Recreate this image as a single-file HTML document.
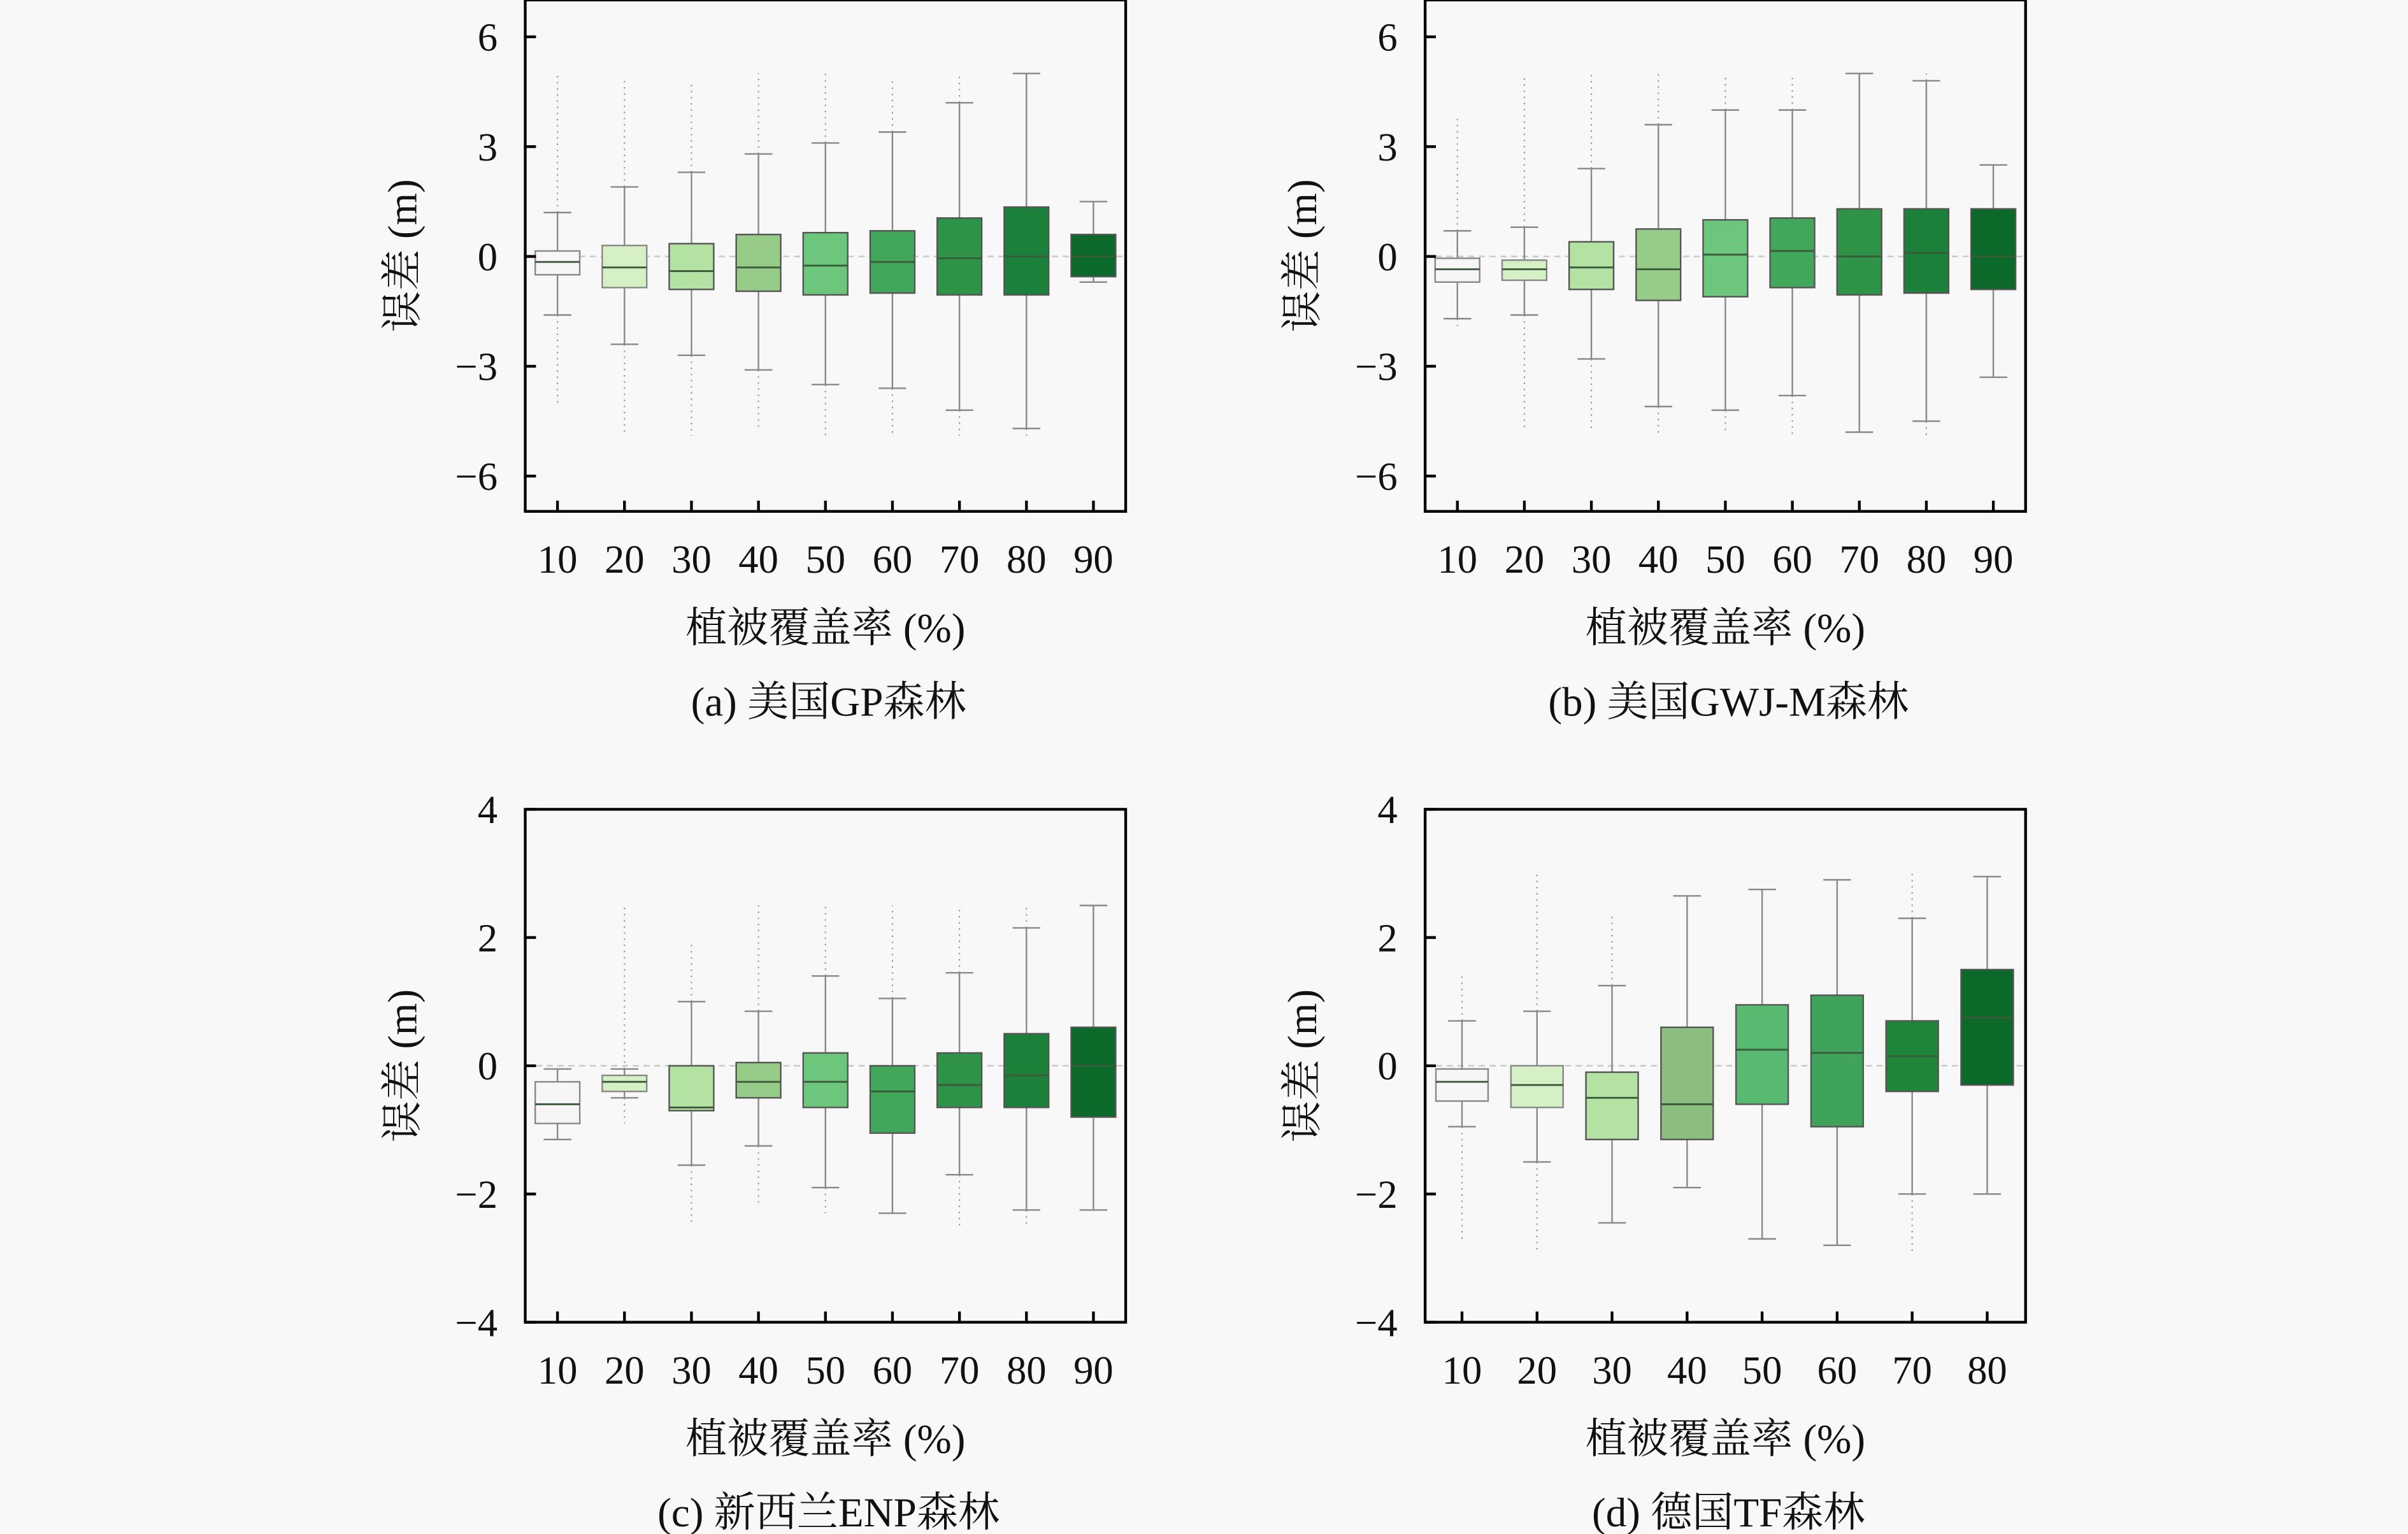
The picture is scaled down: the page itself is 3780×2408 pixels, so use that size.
<!DOCTYPE html>
<html><head><meta charset="utf-8"><style>
html,body{margin:0;padding:0;background:#f8f8f8;}
svg{display:block;}
text{font-family:"Liberation Serif","Noto Serif CJK SC","Noto Sans CJK SC",serif;fill:#111;}
</style></head><body>
<svg id="s" width="3780" height="2408" viewBox="0 0 1568 998.9" xmlns="http://www.w3.org/2000/svg">
<rect x="0" y="0" width="1568" height="999" fill="#f8f8f8"/>
</svg>
<script>
var S=document.getElementById('s'),NS='http://www.w3.org/2000/svg';
function el(t,a,txt){var e=document.createElementNS(NS,t);for(var k in a)e.setAttribute(k,a[k]);if(txt!=null)e.textContent=txt;S.appendChild(e);return e;}
var colsA=['#f6f6f6','#d6f0c6','#b3e2a3','#97cc88','#6cc67c','#40a75b','#2f9347','#1b8039','#0b6a2a'];
var colsD=['#f6f6f6','#d6f0c6','#b3e2a3','#8cbf7f','#58b970','#3fa35c','#1f8539','#0b6a2a'];
function panel(o){
  var L=o.L,R=o.R,T=o.T,B=o.B;
  el('rect',{x:L,y:T,width:R-L,height:B-T,fill:'#f8f8f8',stroke:'none'});
  function Y(v){return o.y0+(o.yTop-o.y0)*(v-o.v0)/(o.vTop-o.v0);}
  el('line',{x1:L,x2:R,y1:Y(0),y2:Y(0),stroke:'#c8c8c8','stroke-width':1,'stroke-dasharray':'4 3'});
  o.data.forEach(function(d,i){
    var x=o.xs[i],w=o.bw/2;
    if(d[5]!=null) el('line',{x1:x,x2:x,y1:Y(d[0]),y2:Y(d[5]),stroke:'#999','stroke-width':0.9,'stroke-dasharray':'1 3'});
    if(d[6]!=null) el('line',{x1:x,x2:x,y1:Y(d[4]),y2:Y(d[6]),stroke:'#999','stroke-width':0.9,'stroke-dasharray':'1 3'});
    el('line',{x1:x,x2:x,y1:Y(d[0]),y2:Y(d[4]),stroke:'#888','stroke-width':1});
    el('line',{x1:x-9,x2:x+9,y1:Y(d[0]),y2:Y(d[0]),stroke:'#888','stroke-width':1});
    el('line',{x1:x-9,x2:x+9,y1:Y(d[4]),y2:Y(d[4]),stroke:'#888','stroke-width':1});
    el('rect',{x:x-w,y:Y(d[3]),width:2*w,height:Y(d[1])-Y(d[3]),fill:o.cols[i],stroke:i<2?'#888':'#555','stroke-width':1});
    el('line',{x1:x-w,x2:x+w,y1:Y(d[2]),y2:Y(d[2]),stroke:'#3c5a3c','stroke-width':1.2});
  });
  el('rect',{x:L,y:T,width:R-L,height:B-T,fill:'none',stroke:'#000','stroke-width':1.8});
  o.ticks.forEach(function(v){var y=Y(v);el('line',{x1:L,x2:L+7,y1:y,y2:y,stroke:'#000','stroke-width':1.8});
    el('text',{x:L-18,y:y+9,'font-size':26,'text-anchor':'end'},(v<0?'\u2212':'')+Math.abs(v));});
  o.xs.forEach(function(x,i){el('line',{x1:x,x2:x,y1:B,y2:B-7,stroke:'#000','stroke-width':1.8});
    el('text',{x:x,y:B+40,'font-size':26,'text-anchor':'middle'},String((i+1)*10));});
  var cx=(L+R)/2;
  el('text',{x:cx,y:B+85,'font-size':27,'text-anchor':'middle'},'植被覆盖率 (%)');
  el('text',{x:cx+2,y:B+133,'font-size':27,'text-anchor':'middle'},o.cap);
  var ly=(T+B)/2;
  el('text',{x:0,y:0,'font-size':27,'text-anchor':'middle',transform:'translate('+(L-71)+','+ly+') rotate(-90)'},'误差 (m)');
}
function xs(a,b,n){var r=[];for(var i=0;i<n;i++)r.push(a+(b-a)*i/(n-1));return r;}
var A=[[-1.6,-0.5,-0.15,0.15,1.2,-4.1,5],[-2.4,-0.85,-0.3,0.3,1.9,-4.9,4.9],[-2.7,-0.9,-0.4,0.35,2.3,-4.9,4.7],[-3.1,-0.95,-0.3,0.6,2.8,-4.7,5],[-3.5,-1.05,-0.25,0.65,3.1,-4.9,5],[-3.6,-1.0,-0.15,0.7,3.4,-4.9,4.9],[-4.2,-1.05,-0.05,1.05,4.2,-4.9,5],[-4.7,-1.05,0,1.35,5.0,-4.9,null],[-0.7,-0.55,0,0.6,1.5,null,null]];
var Bd=[[-1.7,-0.7,-0.35,-0.05,0.7,-1.9,3.8],[-1.6,-0.65,-0.35,-0.1,0.8,-4.7,5],[-2.8,-0.9,-0.3,0.4,2.4,-4.7,5],[-4.1,-1.2,-0.35,0.75,3.6,-4.9,5],[-4.2,-1.1,0.05,1.0,4.0,-4.8,4.9],[-3.8,-0.85,0.15,1.05,4.0,-4.9,5],[-4.8,-1.05,0,1.3,5.0,null,null],[-4.5,-1.0,0.1,1.3,4.8,-4.9,5],[-3.3,-0.9,0,1.3,2.5,null,null]];
var C=[[-1.15,-0.9,-0.6,-0.25,-0.05,null,null],[-0.5,-0.4,-0.25,-0.15,-0.05,-0.9,2.5],[-1.55,-0.7,-0.65,0,1.0,-2.5,1.9],[-1.25,-0.5,-0.25,0.05,0.85,-2.2,2.5],[-1.9,-0.65,-0.25,0.2,1.4,-2.3,2.5],[-2.3,-1.05,-0.4,0,1.05,null,2.5],[-1.7,-0.65,-0.3,0.2,1.45,-2.5,2.5],[-2.25,-0.65,-0.15,0.5,2.15,-2.5,2.5],[-2.25,-0.8,0,0.6,2.5,null,null]];
var D=[[-0.95,-0.55,-0.25,-0.05,0.7,-2.7,1.4],[-1.5,-0.65,-0.3,0,0.85,-2.9,3.0],[-2.45,-1.15,-0.5,-0.1,1.25,null,2.4],[-1.9,-1.15,-0.6,0.6,2.65,null,null],[-2.7,-0.6,0.25,0.95,2.75,null,null],[-2.8,-0.95,0.2,1.1,2.9,null,null],[-2.0,-0.4,0.15,0.7,2.3,-2.9,3.0],[-2.0,-0.3,0.75,1.5,2.95,null,null]];
panel({L:342,R:733,T:0,B:333,v0:0,y0:167,vTop:6,yTop:24,ticks:[6,3,0,-3,-6],xs:xs(363,712,9),bw:29,data:A,cols:colsA,cap:'(a) 美国GP森林'});
panel({L:928,R:1319,T:0,B:333,v0:0,y0:167,vTop:6,yTop:24,ticks:[6,3,0,-3,-6],xs:xs(949,1298,9),bw:29,data:Bd,cols:colsA,cap:'(b) 美国GWJ-M森林'});
panel({L:342,R:733,T:527,B:861,v0:0,y0:694,vTop:4,yTop:527,ticks:[4,2,0,-2,-4],xs:xs(363,712,9),bw:29,data:C,cols:colsA,cap:'(c) 新西兰ENP森林'});
panel({L:928,R:1319,T:527,B:861,v0:0,y0:694,vTop:4,yTop:527,ticks:[4,2,0,-2,-4],xs:xs(952,1294,8),bw:34,data:D,cols:colsD,cap:'(d) 德国TF森林'});
</script>
</body></html>
